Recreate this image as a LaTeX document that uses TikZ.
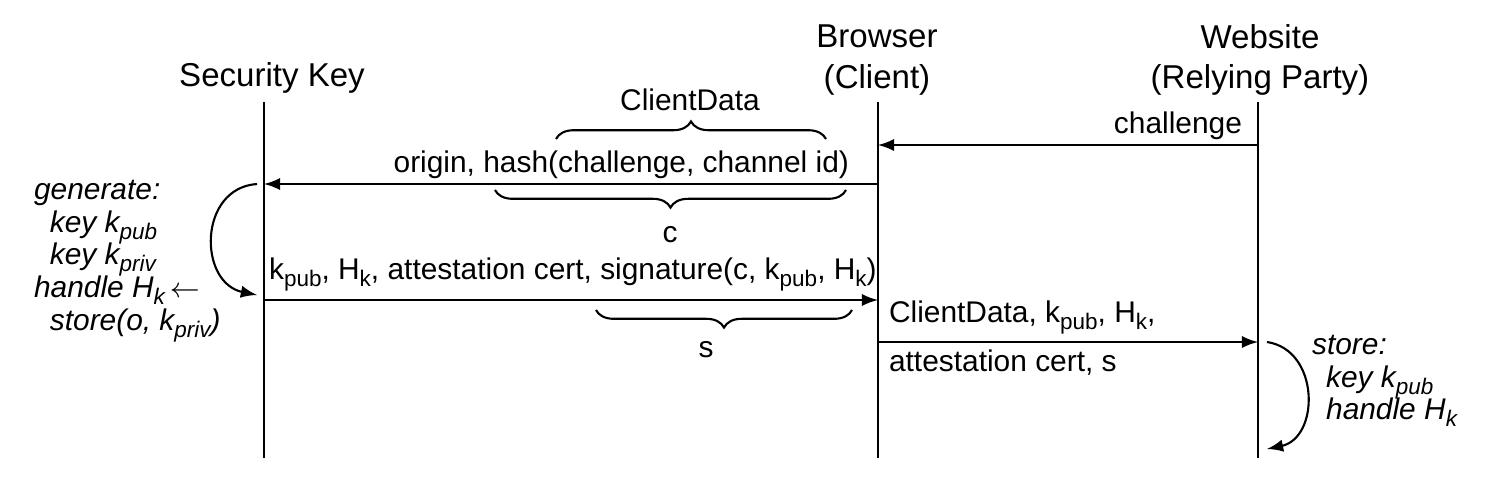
\documentclass[tikz,border=0pt]{standalone}
\usepackage{fontspec}
\setmainfont{Liberation Sans}
\usetikzlibrary{arrows,calc,decorations.pathreplacing,positioning}
\newcommand{\sbs}[1]{\raisebox{-0.45ex}[0pt][0pt]{\fontsize{6.4}{7}\selectfont #1}}

\begin{document}
\begin{tikzpicture}[x=0.01cm,y=-0.01cm,->,>=latex,semithick,
  every node/.style={inner sep=0pt,font=\fontsize{8.5}{10}\selectfont},
  party/.style={align=center,font=\fontsize{9.4}{11.4}\selectfont},
  brace/.style={-,decorate,decoration={brace,amplitude=5pt}},
  note/.style={align=left,font=\fontsize{8.5}{9.3}\selectfont\itshape}]
\useasboundingbox (0,0) rectangle (1490,490);

% parties
\node[party] (skey) at (272,78) {Security Key};
\node[party] (browser) at (877,60) {Browser\\(Client)};
\node[party] (website) at (1260,60) {Website\\(Relying Party)};

% lifelines
\coordinate (sktop) at (264,102);
\coordinate (skbot) at (264,458);
\coordinate (brtop) at (878,102);
\coordinate (brbot) at (878,458);
\coordinate (wstop) at (1258,102);
\coordinate (wsbot) at (1258,458);
\draw[-] (sktop) -- (skbot);
\draw[-] (brtop) -- (brbot);
\draw[-] (wstop) -- (wsbot);

% messages
\coordinate (ws1) at (1258,145);
\coordinate (br1) at (878,145);
\coordinate (br2) at (878,184);
\coordinate (sk2) at (264,184);
\coordinate (sk3) at (264,300);
\coordinate (br3) at (878,300);
\coordinate (br4) at (878,342);
\coordinate (ws4) at (1258,342);

\path (ws1) edge (br1);
\path (br2) edge (sk2);
\path (sk3) edge (br3);
\path (br4) edge (ws4);

\node[anchor=base east] (chal) at (1243,133) {challenge};
\node[anchor=base east] (orig) at (850,172) {origin, hash(challenge, channel id)};
\node[anchor=base west] (resp) at (268,279)
  {k\sbs{pub}, H\sbs{k}, attestation cert, signature(c, k\sbs{pub}, H\sbs{k})};
\node[anchor=base west] (fwd1) at (888,322) {ClientData, k\sbs{pub}, H\sbs{k},};
\node[anchor=base west] (fwd2) at (888,371) {attestation cert, s};

% braces
\coordinate (cd1) at (556,139);
\coordinate (cd2) at (826,139);
\draw[brace] (cd1) -- (cd2);
\node (cdata) at (690,100) {ClientData};
\coordinate (c1) at (846,190);
\coordinate (c2) at (495,190);
\draw[brace] (c1) -- (c2);
\node (clab) at (670,235) {c};
\coordinate (s1) at (852,310);
\coordinate (s2) at (596,310);
\draw[brace] (s1) -- (s2);
\node (slab) at (706,350) {s};

% local steps
\coordinate (gen1) at (257,184);
\coordinate (gen2) at (257,295);
\draw (gen1) .. controls (198,188) and (198,283) .. (gen2);
\node[note,anchor=north west] (gen) at (33,179)
  {generate:\\
   \hspace*{4.5pt}key k\sbs{pub}\\
   \hspace*{4.5pt}key k\sbs{priv}\\
   handle H\sbs{k}\,$\leftarrow$\\
   \hspace*{4.5pt}store(o, k\sbs{priv})};
\coordinate (st1) at (1267,342);
\coordinate (st2) at (1267,449);
\draw (st1) .. controls (1320,350) and (1320,438) .. (st2);
\node[note,anchor=north west] (store) at (1311,334)
  {store:\\
   \hspace*{4pt}key k\sbs{pub}\\
   \hspace*{4pt}handle H\sbs{k}};
\end{tikzpicture}
\end{document}
